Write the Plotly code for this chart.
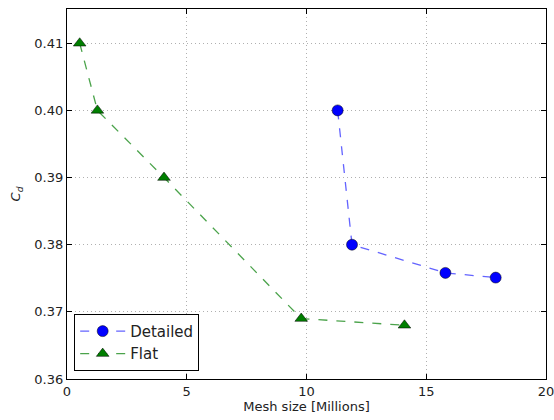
import plotly.graph_objects as go

detailed_x = [11.3, 11.9, 15.8, 17.9]
detailed_y = [0.400, 0.380, 0.3758, 0.3751]
flat_x = [0.53, 1.27, 4.05, 9.78, 14.09]
flat_y = [0.410, 0.400, 0.390, 0.369, 0.368]

x_ticks = [0, 5, 10, 15, 20]
y_ticks = [0.36, 0.37, 0.38, 0.39, 0.40, 0.41]
y_tick_labels = ["0.36", "0.37", "0.38", "0.39", "0.40", "0.41"]

fig = go.Figure()
fig.add_trace(go.Scatter(
    x=detailed_x, y=detailed_y, mode="lines+markers", name="Detailed",
    line=dict(color="rgba(60,60,255,0.8)", dash="dash", width=1.3),
    marker=dict(symbol="circle", size=11, color="#0000ff",
                line=dict(color="black", width=0.5)),
))
fig.add_trace(go.Scatter(
    x=flat_x, y=flat_y, mode="lines+markers", name="Flat",
    line=dict(color="rgba(30,140,30,0.8)", dash="dash", width=1.3),
    marker=dict(symbol="triangle-up", size=11, color="#007f00",
                line=dict(color="black", width=0.5)),
))

axis_common = dict(
    showline=True, linecolor="black", linewidth=1.2, mirror="ticks",
    ticks="inside", ticklen=5, tickcolor="black", automargin=False,
    showgrid=True, gridcolor="#b0b0b0", griddash="1px,3px", gridwidth=1,
    zeroline=False, ticklabeloverflow="allow",
    tickfont=dict(family="DejaVu Sans", size=13, color="#222"),
)

fig.update_xaxes(range=[0, 20], tickvals=x_ticks, **axis_common,
                 title=dict(text="Mesh size [Millions]",
                            font=dict(family="DejaVu Sans", size=13, color="#222"),
                            standoff=4))
fig.update_yaxes(range=[0.36, 0.4151], tickvals=y_ticks, ticktext=y_tick_labels,
                 **axis_common,
                 title=dict(text="<i>C<sub>d</sub></i>",
                            font=dict(family="DejaVu Sans", size=13, color="#222"),
                            standoff=10))

fig.update_layout(
    width=554, height=420,
    margin=dict(l=67, r=8, t=9, b=41, autoexpand=False),
    plot_bgcolor="white", paper_bgcolor="white",
    legend=dict(x=0.015, y=0.022, xanchor="left", yanchor="bottom",
                bordercolor="black", borderwidth=1, bgcolor="white",
                font=dict(family="DejaVu Sans", size=15, color="#222"),
                itemwidth=45, tracegroupgap=0),
    showlegend=True,
)

fig.write_html(
    "out.html",
    config={"displayModeBar": False},
    post_script="document.body.style.margin='0';document.body.style.overflow='hidden';",
)
